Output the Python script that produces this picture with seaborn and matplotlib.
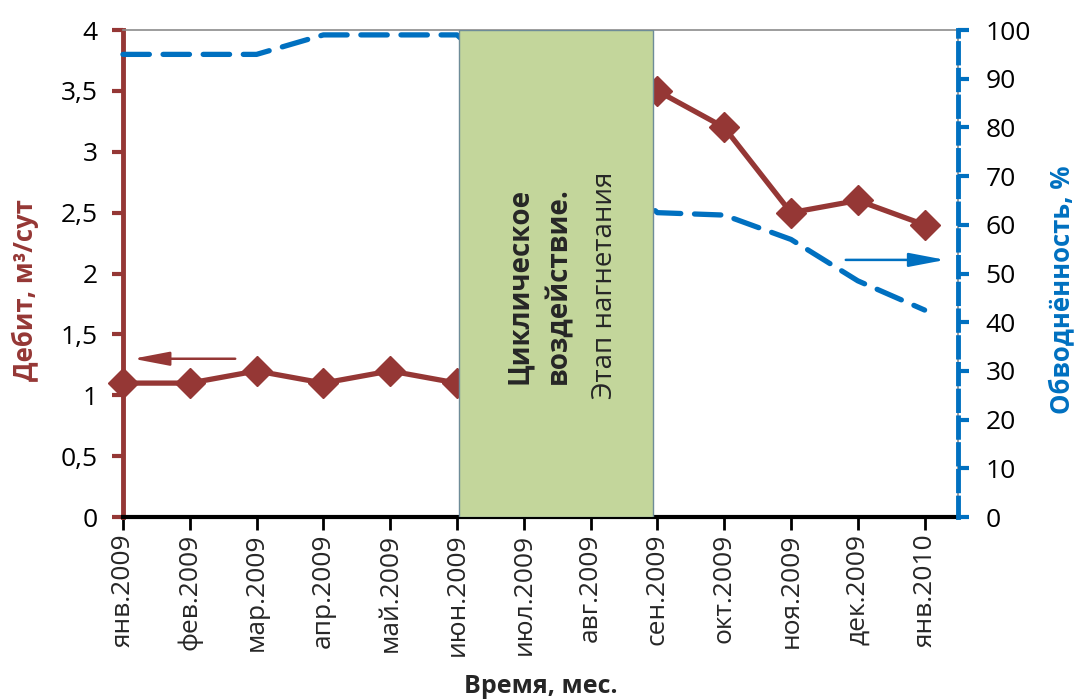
import numpy as np
import pandas as pd
import matplotlib
matplotlib.use("Agg")
import matplotlib.pyplot as plt
from matplotlib.ticker import FuncFormatter, MultipleLocator
import seaborn as sns

# Monthly well data
months = ["янв.2009", "фев.2009", "мар.2009", "апр.2009", "май.2009", "июн.2009",
          "июл.2009", "авг.2009", "сен.2009", "окт.2009", "ноя.2009", "дек.2009",
          "янв.2010"]
debit = [1.1, 1.1, 1.2, 1.1, 1.2, 1.1, np.nan, np.nan, 3.5, 3.2, 2.5, 2.6, 2.4]
water_cut = [95, 95, 95, 99, 99, 99, np.nan, np.nan, 62.5, 62, 57, 48.5, 42.5]

# Injection stage (category positions)
stage_start, stage_end = 5.03, 7.94

RED = "#953735"
BLUE = "#0070C0"
GREEN = "#C3D69B"

sns.set_style("white")
plt.rcParams["font.family"] = ["Open Sans", "DejaVu Sans"]

TICK_FS = 19
LABEL_FS = 18.5

df = pd.DataFrame({"pos": np.arange(len(months)), "debit": debit, "water": water_cut})

fig = plt.figure(figsize=(10.74, 7.0), dpi=100)
ax = fig.add_axes([0.1145, 0.2614, 0.7775, 0.6957])
ax2 = ax.twinx()

# Flow rate (left axis)
sns.lineplot(data=df, x="pos", y="debit", ax=ax, color=RED, lw=3.8,
             marker="D", markersize=15, markeredgecolor=RED, markeredgewidth=1,
             clip_on=False, zorder=4)

# Water cut (right axis)
sns.lineplot(data=df, x="pos", y="water", ax=ax2, color=BLUE, lw=3.8,
             linestyle=(0, (5, 2.6)), dash_capstyle="round", clip_on=False, zorder=3)

ax.set_xlim(0, 12.5)
ax.set_ylim(0, 4)
ax2.set_ylim(0, 100)

ax.set_xticks(df["pos"])
ax.set_xticklabels(months, rotation=90, fontsize=TICK_FS)
ax.yaxis.set_major_locator(MultipleLocator(0.5))
ax.yaxis.set_major_formatter(FuncFormatter(lambda v, p: f"{v:g}".replace(".", ",")))
ax2.yaxis.set_major_locator(MultipleLocator(10))
ax.tick_params(axis="y", labelsize=TICK_FS, labelcolor="black")
ax2.tick_params(axis="y", labelsize=TICK_FS, labelcolor="black")

ax.tick_params(axis="y", direction="out", length=8, width=3, color=RED, pad=10, left=True)
ax2.tick_params(axis="y", direction="out", length=8, width=3, color=BLUE, pad=12, right=True)
ax.tick_params(axis="x", direction="out", length=9, width=2, color="black", pad=3, bottom=True)

# Spines
ax.spines["left"].set_color(RED)
ax.spines["left"].set_linewidth(3.5)
ax.spines["bottom"].set_color("black")
ax.spines["bottom"].set_linewidth(3)
ax.spines["top"].set_color("#8C8C8C")
ax.spines["top"].set_linewidth(1.2)
ax.spines["right"].set_color("#8C8C8C")
ax.spines["right"].set_linewidth(1.2)
for s in ["left", "bottom", "top"]:
    ax2.spines[s].set_visible(False)
ax2.spines["right"].set_color(BLUE)
ax2.spines["right"].set_linewidth(3.5)
ax2.spines["right"].set_linestyle((0, (4, 1.5)))

ax.grid(False)
ax2.grid(False)

# Axis titles
ax.set_xlabel("Время, мес.", fontsize=18, fontweight="bold", va="center")
ax.xaxis.set_label_coords(0.5, -0.347)
ax.set_ylabel("Дебит, м³/сут", fontsize=LABEL_FS, fontweight="bold", color=RED,
              va="center", ha="center")
ax.yaxis.set_label_coords(-0.117, 0.466)
ax2.set_ylabel("Обводнённость, %", fontsize=LABEL_FS, fontweight="bold", color=BLUE,
               rotation=90, va="center", ha="center")
ax2.yaxis.set_label_coords(1.1246, 0.466)

# Injection-stage box with caption
ax2.axvspan(stage_start, stage_end, facecolor=GREEN, edgecolor="#6E8C98",
            lw=1, zorder=6)
ax2.text(5.93, 47.5, "Циклическое", rotation=90, ha="center", va="center",
         fontsize=20, fontweight="bold", zorder=7)
ax2.text(6.52, 47.5, "воздействие.", rotation=90, ha="center", va="center",
         fontsize=20, fontweight="bold", zorder=7)
ax2.text(7.21, 47.5, "Этап нагнетания", rotation=90, ha="center", va="center",
         fontsize=20, zorder=7)

# Arrows pointing to the matching axes
ax.annotate("", xy=(0.15, 1.3), xytext=(1.68, 1.3),
            arrowprops=dict(arrowstyle="-|>,head_length=2.2,head_width=0.42",
                            color=RED, lw=1.8, mutation_scale=10, shrinkA=0, shrinkB=0))
ax2.annotate("", xy=(12.31, 52.8), xytext=(10.82, 52.8),
             arrowprops=dict(arrowstyle="-|>,head_length=2.2,head_width=0.42",
                             color=BLUE, lw=1.8, mutation_scale=10, shrinkA=0, shrinkB=0))

fig.savefig("out.png", dpi=100)
